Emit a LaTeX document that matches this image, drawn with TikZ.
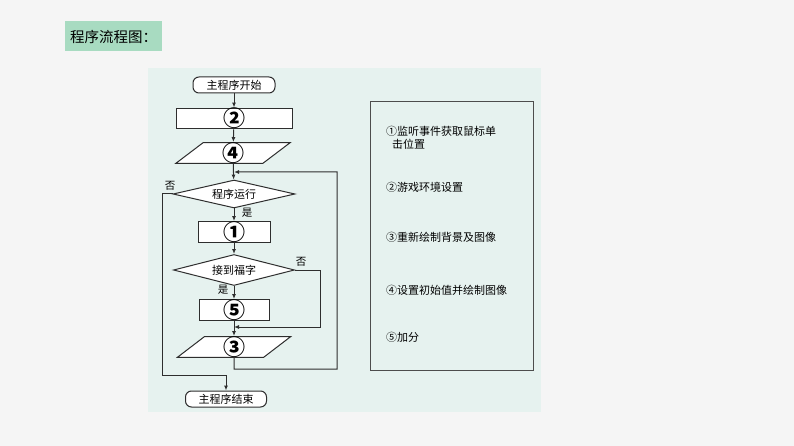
\documentclass[tikz,border=0pt]{standalone}
\usepackage{fontspec}
\setmainfont{Noto Sans CJK SC}
\newfontfamily\cjk{Noto Sans CJK SC}
\newcommand{\numf}{\cjk\bfseries\fontsize{22}{22}\selectfont}
\usetikzlibrary{shapes.geometric,arrows.meta}
\definecolor{outerbg}{HTML}{F5F5F5}
\definecolor{panelbg}{HTML}{E6F2EF}
\definecolor{titlebg}{HTML}{A8DBC1}
\definecolor{ln}{HTML}{2E2E2E}
\begin{document}
\begin{tikzpicture}[x=1pt,y=-1pt,
  base/.style={draw=ln,line width=1pt,fill=white,inner sep=0pt,font=\cjk\fontsize{11}{11}\selectfont},
  term/.style={base,rectangle,rounded corners=6pt,minimum height=16pt},
  proc/.style={base,rectangle,minimum height=19pt},
  para/.style={base,trapezium,trapezium left angle=64,trapezium right angle=116,trapezium stretches=true},
  dec/.style={base,diamond},
  conn/.style={draw=ln,line width=1pt},
  arr/.style={conn,-{Latex[length=5pt,width=4pt]}},
  lab/.style={font=\cjk\fontsize{10.5}{10.5}\selectfont,inner sep=0pt},
  desc/.style={font=\cjk\fontsize{11}{13}\selectfont,inner sep=0pt,anchor=west,align=left}]
\useasboundingbox (0,0) rectangle (794,446);
\fill[outerbg] (0,0) rectangle (794,446);
\fill[panelbg] (148,68) rectangle (541,412);
\node[fill=titlebg,minimum width=97pt,minimum height=30pt,inner sep=0pt,font=\cjk\fontsize{14.5}{14.5}\selectfont] (title) at (113.5,36.5) {程序流程图：};

% flowchart
\node[term,minimum width=82pt] (start) at (234,85) {主程序开始};
\node[proc,minimum width=116pt] (r2) at (234,118.5) {\numf ②};
\node[para,minimum width=115pt,minimum height=18pt] (p4) at (233,153) {\numf ④};
\node[dec,minimum width=122pt,minimum height=28pt,aspect=4.4] (d1) at (234,194) {程序运行};
\node[proc,minimum width=72pt] (r1) at (234,232) {\numf ①};
\node[dec,minimum width=121pt,minimum height=31pt,aspect=3.9] (d2) at (234,270) {接到福字};
\node[proc,minimum width=70pt] (r5) at (234,310) {\numf ⑤};
\node[para,minimum width=114pt,minimum height=20pt] (p3) at (234,347) {\numf ③};
\node[term,minimum width=81pt] (end) at (226,399) {主程序结束};

\coordinate (loopin) at (234,172);
\coordinate (joinin) at (234,327);
\coordinate (endin) at (226,375);

\draw[arr] (start) -- (r2);
\draw[arr] (r2) -- (p4);
\draw[arr] (p4) -- (d1);
\draw[arr] (d1) -- (r1);
\draw[arr] (r1) -- (d2);
\draw[arr] (d2) -- (r5);
\draw[arr] (r5) -- (p3);
\draw[arr] (d2.east) -- (320,270) -- (320,327) -- (joinin);
\draw[arr] (p3.south) -- (234,369) -- (337,369) -- (337,172) -- (loopin);
\draw[arr] (d1.west) -- (162,194) -- (162,375) -- (endin) -- (end.north);

\node[lab] (no1) at (170,186) {否};
\node[lab] (yes1) at (247,213) {是};
\node[lab] (no2) at (301,262) {否};
\node[lab] (yes2) at (223,290) {是};

% legend box
\draw[draw=ln!85,line width=1pt] (370,102) rectangle (533,370);
\node[desc] (t1) at (386,138) {①监听事件获取鼠标单\\\hspace{6pt}击位置};
\node[desc] (t2) at (386,187) {②游戏环境设置};
\node[desc] (t3) at (386,237) {③重新绘制背景及图像};
\node[desc] (t4) at (386,290) {④设置初始值并绘制图像};
\node[desc] (t5) at (386,337) {⑤加分};
\end{tikzpicture}
\end{document}
